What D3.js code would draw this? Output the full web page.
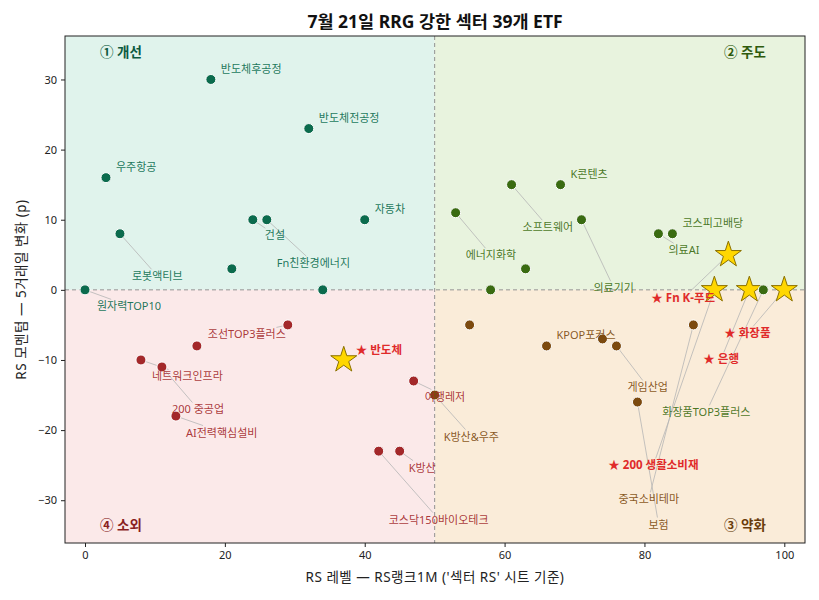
<!DOCTYPE html>
<html><head><meta charset="utf-8">
<script src="https://cdn.jsdelivr.net/npm/d3@7"></script>
<style>
body{margin:0;background:#fff}
text{font-family:"Noto Sans","Noto Sans CJK KR",sans-serif}
</style>
</head><body>
<svg id="chart" width="819" height="600"></svg>
<script>
// ---------------- DATA ----------------
const titleText = "7월 21일 RRG 강한 섹터 39개 ETF";
const xLabelText = "RS 레벨 — RS랭크1M ('섹터 RS' 시트 기준)";
const yLabelText = "RS 모멘텀 — 5거래일 변화 (p)";
const etfNames = [
  "반도체후공정","반도체전공정","우주항공","로봇액티브","건설","Fn친환경에너지","자동차","","원자력TOP10","",
  "K콘텐츠","소프트웨어","에너지화학","의료기기","","","의료AI","코스피고배당","화장품TOP3플러스",
  "Fn K-푸드","200 생활소비재","은행","화장품",
  "","KPOP포커스","","게임산업","보험","중국소비테마","K방산&우주",
  "조선TOP3플러스","","네트워크인프라","200 중공업","AI전력핵심설비","여행레저","K방산","코스닥150바이오테크",
  "반도체"
];
const rsLevel = [
  18,32,3,5,24,26,40,21,0,34,
  68,61,53,71,63,58,82,84,97,
  92,90,95,100,
  55,66,74,76,79,87,50,
  29,16,8,11,13,47,45,42,
  37
];
const rsMomentum = [
  30,23,16,8,10,10,10,3,0,0,
  15,15,11,10,3,0,8,8,0,
  5,0,0,0,
  -5,-8,-7,-8,-16,-5,-15,
  -5,-8,-10,-11,-18,-13,-23,-23,
  -10
];
const highlighted = ["Fn K-푸드","200 생활소비재","은행","화장품","반도체"];
const quadrantNames = ["① 개선","② 주도","③ 약화","④ 소외"];
const xTicks = [0,20,40,60,80,100];
const yTicks = [-30,-20,-10,0,10,20,30];

// ---------------- LAYOUT / STYLE ----------------
const W = 819, H = 600;
const M = {left:65, right:805, top:36, bottom:543};
const xDomain = [-2.86, 102.96], yDomain = [-36.1, 36.2];
const splitX = 50, splitY = 0;
const quadStyle = {
  improving:{bg:"#e0f3ec", dot:"#0b6b4d", title:"#0b5a40"},
  leading:{bg:"#e8f3de", dot:"#3a6b11", title:"#2e5a0c"},
  weakening:{bg:"#faecd9", dot:"#7c4a0f", title:"#6a3c0c"},
  lagging:{bg:"#fbe9e9", dot:"#a3282a", title:"#8a1f1f"}
};
// label offsets (px) of label start / middle relative to the mark
const defaultOffset = [10,-11];
const labelOffsets = {
  "로봇액티브":[12,42], "건설":[12,15], "Fn친환경에너지":[10,43], "원자력TOP10":[12,16],
  "소프트웨어":[11,42], "에너지화학":[10,42], "의료기기":[12,68], "의료AI":[10,16],
  "화장품TOP3플러스":[-101,122], "Fn K-푸드":[-77,43], "200 생활소비재":[-106,175],
  "은행":[-46,69], "화장품":[-60,43], "게임산업":[11,41], "보험":[11,122],
  "중국소비테마":[-75,174], "K방산&우주":[9,41], "조선TOP3플러스":[-80,9],
  "네트워크인프라":[11,16], "200 중공업":[10,42], "AI전력핵심설비":[10,16],
  "여행레저":[11,15], "K방산":[9,16], "코스닥150바이오테크":[10,68], "반도체":[12,-10]
};

const data = etfNames.map((n,i)=>({name:n, x:rsLevel[i], y:rsMomentum[i], star:highlighted.includes(n)}));
function quad(d){
  if (d.y >= splitY) return d.x >= splitX ? "leading" : "improving";
  return d.x >= splitX ? "weakening" : "lagging";
}

const svg = d3.select("#chart");
svg.append("rect").attr("width",W).attr("height",H).attr("fill","#fff");
const x = d3.scaleLinear().domain(xDomain).range([M.left, M.right]);
const y = d3.scaleLinear().domain(yDomain).range([M.bottom, M.top]);

// quadrant backgrounds
const qb = [
  {k:"improving", x0:xDomain[0], x1:splitX, y0:splitY, y1:yDomain[1]},
  {k:"leading", x0:splitX, x1:xDomain[1], y0:splitY, y1:yDomain[1]},
  {k:"weakening", x0:splitX, x1:xDomain[1], y0:yDomain[0], y1:splitY},
  {k:"lagging", x0:xDomain[0], x1:splitX, y0:yDomain[0], y1:splitY}
];
svg.append("g").selectAll("rect").data(qb).join("rect")
  .attr("x",d=>x(d.x0)).attr("width",d=>x(d.x1)-x(d.x0))
  .attr("y",d=>y(d.y1)).attr("height",d=>y(d.y0)-y(d.y1))
  .attr("fill",d=>quadStyle[d.k].bg);

// dividers
svg.append("line").attr("x1",x(splitX)).attr("x2",x(splitX)).attr("y1",M.top).attr("y2",M.bottom)
  .attr("stroke","#888").attr("stroke-width",0.9).attr("stroke-dasharray","4,3");
svg.append("line").attr("x1",M.left).attr("x2",M.right).attr("y1",y(splitY)).attr("y2",y(splitY))
  .attr("stroke","#888").attr("stroke-width",0.9).attr("stroke-dasharray","4,3");

// quadrant titles
const qt = [
  {t:quadrantNames[0], k:"improving", x:M.left+35, y:M.top+16},
  {t:quadrantNames[1], k:"leading", x:M.right-81, y:M.top+16},
  {t:quadrantNames[2], k:"weakening", x:M.right-81, y:M.bottom-18},
  {t:quadrantNames[3], k:"lagging", x:M.left+35, y:M.bottom-18}
];
svg.append("g").selectAll("text").data(qt).join("text")
  .attr("x",d=>d.x).attr("y",d=>d.y).attr("dominant-baseline","central")
  .attr("font-size",13.5).attr("font-weight","bold").attr("fill",d=>quadStyle[d.k].title)
  .text(d=>d.t);

const gLines = svg.append("g");
// stars
const starSym = d3.symbol().type(d3.symbolStar).size(210);
svg.append("g").selectAll("path").data(data.filter(d=>d.star)).join("path")
  .attr("d",starSym).attr("transform",d=>`translate(${x(d.x)},${y(d.y)})`)
  .attr("fill","#ffd700").attr("stroke","#8a7000").attr("stroke-width",1);
// dots
svg.append("g").selectAll("circle").data(data.filter(d=>!d.star)).join("circle")
  .attr("cx",d=>x(d.x)).attr("cy",d=>y(d.y)).attr("r",5)
  .attr("fill",d=>quadStyle[quad(d)].dot).attr("stroke","#fff").attr("stroke-width",1);

// labels
const labeled = data.filter(d=>d.name!=="");
const gLab = svg.append("g");
labeled.forEach(d=>{
  const off = labelOffsets[d.name] || defaultOffset;
  const px = x(d.x), py = y(d.y);
  const t = gLab.append("text").attr("x",px+off[0]).attr("y",py+off[1])
    .attr("dominant-baseline","central");
  if (d.star){
    t.attr("font-size",11.5).attr("font-weight","bold").attr("fill","#e02a2a").text("★ "+d.name);
  } else {
    t.attr("font-size",11).attr("fill",quadStyle[quad(d)].dot).attr("fill-opacity",0.92).text(d.name);
  }
  if (labelOffsets[d.name]){
    const b = t.node().getBBox();
    const bx0=b.x-1, bx1=b.x+b.width+1, by0=b.y+1, by1=b.y+b.height-1;
    const cx=b.x+b.width/2, cy=b.y+b.height/2;
    const dx=cx-px, dy=cy-py;
    let ts=[];
    if (dx>0) ts.push((bx0-px)/dx); else if (dx<0) ts.push((bx1-px)/dx);
    if (dy>0) ts.push((by0-py)/dy); else if (dy<0) ts.push((by1-py)/dy);
    const te = Math.max(...ts);
    if (te>0){
      const ex=px+te*dx, ey=py+te*dy;
      if (Math.hypot(ex-px,ey-py)>9){
        gLines.append("line").attr("x1",px).attr("y1",py).attr("x2",ex).attr("y2",ey)
          .attr("stroke","#b5b5b5").attr("stroke-width",0.8);
      }
    }
  }
});

// axes
const xAxis = d3.axisBottom(x).tickValues(xTicks).tickSize(4).tickPadding(4);
const yAxis = d3.axisLeft(y).tickValues(yTicks).tickSize(4).tickPadding(4);
const gx = svg.append("g").attr("transform",`translate(0,${M.bottom})`).call(xAxis);
const gy = svg.append("g").attr("transform",`translate(${M.left},0)`).call(yAxis);
[gx,gy].forEach(g=>{
  g.select(".domain").remove();
  g.selectAll("text").attr("font-size",11).attr("fill","#222").style("font-family",'"Noto Sans","Noto Sans CJK KR",sans-serif');
  g.selectAll("line").attr("stroke","#222");
});
// frame
svg.append("rect").attr("x",M.left).attr("y",M.top).attr("width",M.right-M.left).attr("height",M.bottom-M.top)
  .attr("fill","none").attr("stroke","#222").attr("stroke-width",1);

// titles
svg.append("text").attr("x",(M.left+M.right)/2).attr("y",21).attr("text-anchor","middle")
  .attr("dominant-baseline","central").attr("font-size",17.5).attr("font-weight","bold").attr("fill","#111").text(titleText);
svg.append("text").attr("x",(M.left+M.right)/2).attr("y",577).attr("text-anchor","middle")
  .attr("dominant-baseline","central").attr("font-size",13.5).attr("letter-spacing",0.5).attr("fill","#222").text(xLabelText);
svg.append("text").attr("transform",`translate(21,${(M.top+M.bottom)/2}) rotate(-90)`).attr("text-anchor","middle")
  .attr("dominant-baseline","central").attr("font-size",13.5).attr("letter-spacing",0.5).attr("fill","#222").text(yLabelText);
</script>
</body></html>
